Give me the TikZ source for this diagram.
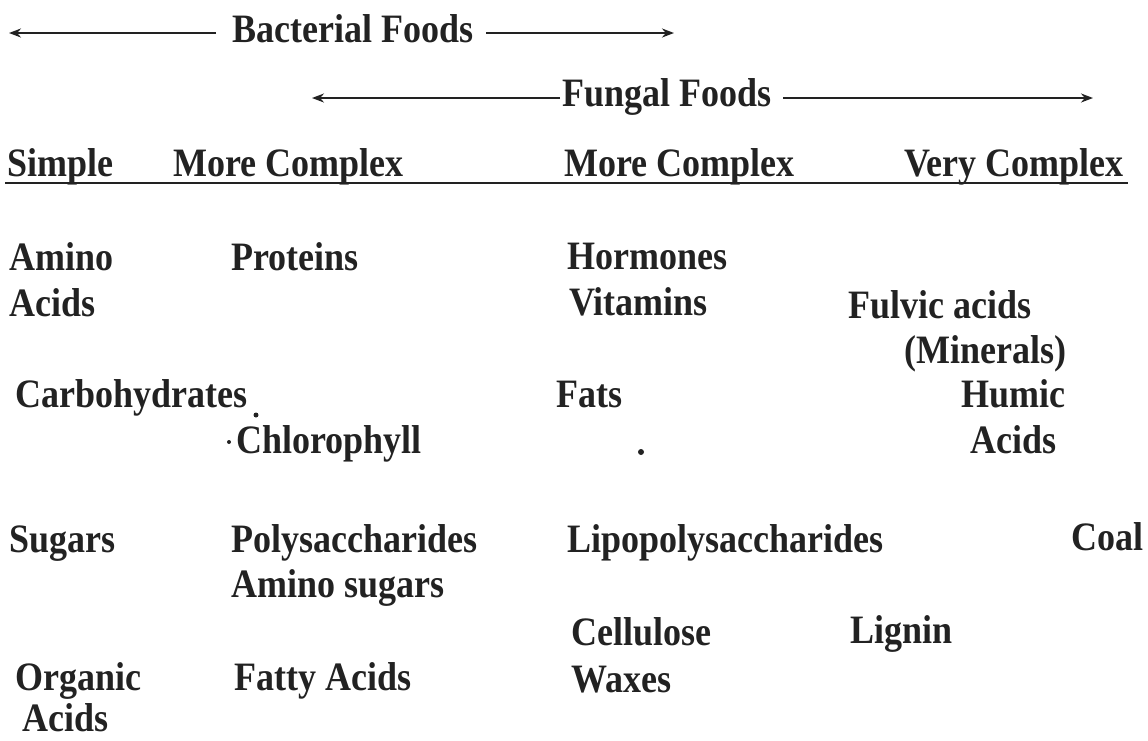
\documentclass[tikz,border=0pt]{standalone}
\usepackage{fontspec}
\usepackage{graphicx}
\setmainfont{Liberation Serif}
\usetikzlibrary{arrows.meta}
\definecolor{ink}{HTML}{222222}
\newcommand\tallbox[1]{\scalebox{1}[1.12]{#1}}
\begin{document}
\begin{tikzpicture}[x=1pt,y=-1pt,
  lbl/.style={anchor=base west, inner sep=0pt, font=\fontsize{36}{43}\selectfont\bfseries, text=ink},
  arr/.style={line width=2.2pt, draw=ink, -{Stealth[length=12pt,width=9pt]}},
  rulestyle/.style={line width=2.2pt, draw=ink},
  speck/.style={fill=ink, circle, inner sep=0pt, minimum size=5pt}]
\useasboundingbox (0,0) rectangle (1148,740);
% top arrows
\node[lbl] (bact) at (232,42) {\tallbox{Bacterial Foods}};
\node[lbl] (fung) at (562,106) {\tallbox{Fungal Foods}};
\coordinate (bLtip) at (9,33);
\coordinate (bRtip) at (674,33);
\coordinate (fLtip) at (312,98);
\coordinate (fRtip) at (1093,98);
\draw[arr, shorten <=16pt] (bact.base west |- bLtip) -- (bLtip);
\draw[arr, shorten <=13pt] (bact.base east |- bRtip) -- (bRtip);
\draw[arr, shorten <=2pt] (fung.base west |- fLtip) -- (fLtip);
\draw[arr, shorten <=12pt] (fung.base east |- fRtip) -- (fRtip);
% header
\node[lbl] (simple) at (7,176) {\tallbox{Simple}};
\node[lbl] (mc1) at (173,176) {\tallbox{More Complex}};
\node[lbl] (mc2) at (564,176) {\tallbox{More Complex}};
\node[lbl] (vc) at (904,176) {\tallbox{Very Complex}};
\coordinate (ulL) at (5,183);
\coordinate (ulR) at (1128,183);
\draw[rulestyle] (ulL) -- (ulR);
% body
\node[lbl] (amino1) at (9,270) {\tallbox{Amino}};
\node[lbl] (acids1) at (9,316) {\tallbox{Acids}};
\node[lbl] (proteins) at (231,270) {\tallbox{Proteins}};
\node[lbl] (hormones) at (567,269) {\tallbox{Hormones}};
\node[lbl] (vitamins) at (569,315) {\tallbox{Vitamins}};
\node[lbl] (fulvic) at (848,318) {\tallbox{Fulvic acids}};
\node[lbl] (minerals) at (904,363) {\tallbox{(Minerals)}};
\node[lbl] (carbo) at (15,407) {\tallbox{Carbohydrates}};
\node[lbl] (fats) at (556,407) {\tallbox{Fats}};
\node[lbl] (humic) at (961,407) {\tallbox{Humic}};
\node[lbl] (chloro) at (236,453) {\tallbox{Chlorophyll}};
\node[lbl] (acids2) at (970,453) {\tallbox{Acids}};
\node[lbl] (sugars) at (9,552) {\tallbox{Sugars}};
\node[lbl] (poly) at (231,552) {\tallbox{Polysaccharides}};
\node[lbl] (lipo) at (567,552) {\tallbox{Lipopolysaccharides}};
\node[lbl] (coal) at (1071,550) {\tallbox{Coal}};
\node[lbl] (aminosugars) at (231,597) {\tallbox{Amino sugars}};
\node[lbl] (cellulose) at (571,645) {\tallbox{Cellulose}};
\node[lbl] (lignin) at (850,643) {\tallbox{Lignin}};
\node[lbl] (organic) at (15,690) {\tallbox{Organic}};
\node[lbl] (fatty) at (234,690) {\tallbox{Fatty Acids}};
\node[lbl] (waxes) at (571,692) {\tallbox{Waxes}};
\node[lbl] (acids3) at (22,731) {\tallbox{Acids}};
% specks
\node[speck] (s1) at (256,415) {};
\node[speck, minimum size=4pt] (s2) at (229,442) {};
\node[speck, minimum size=6pt] (s3) at (641,452) {};
\end{tikzpicture}
\end{document}
